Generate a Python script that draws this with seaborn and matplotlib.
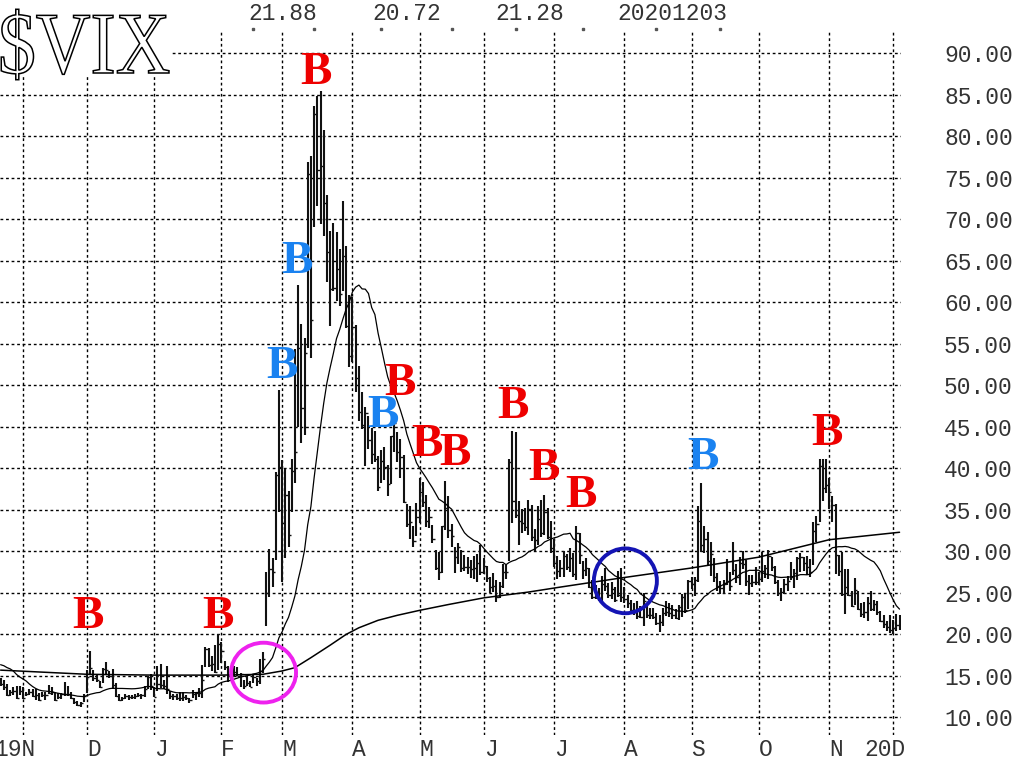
import numpy as np
import pandas as pd
import matplotlib
matplotlib.use("Agg")
import matplotlib.pyplot as plt
import seaborn as sns
from matplotlib.patches import Ellipse, Rectangle, PathPatch
from matplotlib.textpath import TextPath
from matplotlib.font_manager import FontProperties
from matplotlib.transforms import Affine2D, IdentityTransform, blended_transform_factory, offset_copy

# trading calendar shown on the chart
holidays = ["2019-11-28", "2019-12-25", "2020-01-01", "2020-01-20", "2020-02-17",
            "2020-04-10", "2020-05-25", "2020-07-03", "2020-09-07", "2020-11-26"]
dates = pd.bdate_range("2019-10-23", "2020-12-03")
dates = dates[~dates.isin(pd.to_datetime(holidays))]

# closes before the first bar, only used to start the 20-day average
warmup_close = [15.96, 16.07, 17.22, 16.24, 18.56, 20.56, 19.12, 17.04, 17.86, 20.28,
                18.64, 17.57, 15.58, 14.57, 13.54, 13.68, 13.79, 14.25, 14.00, 14.46]

# daily $VIX bars (Oct 23 2019 .. Dec 3 2020), one line per month
vix_high = [
    14.78, 14.52, 13.98, 13.28, 13.70, 13.76, 13.84,
    13.61, 13.04, 13.40, 13.43, 13.44, 12.95, 13.09, 13.02, 13.88, 13.70, 13.06, 12.90, 12.96, 14.22, 13.73, 13.06, 12.37, 11.93, 11.87, 12.84,
    15.71, 17.99, 15.66, 15.12, 14.43, 15.97, 16.71, 15.59, 15.80, 14.20, 12.86, 12.52, 12.80, 12.74, 12.75, 12.83, 12.96, 12.77, 13.75, 15.05, 15.19,
    13.72, 16.20, 16.39, 14.46, 16.19, 13.16, 12.82, 12.79, 13.03, 13.08, 12.74, 12.40, 13.35, 13.04, 13.60, 16.35, 18.54, 18.38, 17.42, 18.67, 19.99,
    19.04, 16.78, 16.19, 15.40, 16.23, 16.10, 15.30, 14.51, 14.99, 14.43, 15.16, 14.75, 17.09, 17.88, 27.56, 30.24, 29.25, 39.55, 49.48,
    41.05, 39.93, 37.27, 41.07, 54.39, 62.12, 57.35, 55.72, 76.83, 77.57, 83.56, 84.83, 85.47, 80.75, 72.90, 68.54, 69.51, 68.39, 66.41, 72.24, 66.80, 60.84,
    60.59, 57.24, 52.29, 49.13, 47.36, 46.31, 44.91, 44.52, 41.44, 42.19, 42.54, 40.40, 43.85, 45.80, 44.42, 43.49, 41.61, 35.72, 35.48, 33.04, 35.86,
    38.80, 38.35, 36.77, 35.39, 33.22, 30.11, 29.96, 33.10, 38.50, 36.63, 33.34, 30.47, 31.02, 30.18, 29.59, 29.30, 28.99, 29.41, 29.67, 30.76,
    29.24, 28.18, 26.87, 27.36, 26.59, 26.30, 28.46, 28.34, 41.14, 44.44, 44.41, 36.01, 35.15, 35.25, 36.14, 35.63, 32.69, 35.49, 36.15, 36.76, 35.27, 33.64,
    31.54, 29.40, 28.97, 30.06, 29.68, 30.36, 29.79, 33.01, 32.20, 28.86, 29.25, 28.00, 26.50, 25.98, 25.56, 27.05, 27.99, 26.24, 26.32, 25.67, 27.60, 28.00,
    25.75, 24.78, 24.14, 23.84, 24.04, 23.41, 24.99, 23.58, 23.24, 23.24, 22.63, 22.35, 23.19, 23.98, 23.79, 23.59, 23.05, 23.58, 24.91, 24.85, 26.60,
    26.95, 26.92, 35.51, 38.28, 33.06, 32.35, 31.17, 29.26, 27.42, 26.40, 26.55, 29.06, 27.49, 31.17, 28.52, 29.29, 30.10, 29.00, 27.14, 27.14, 28.15,
    27.48, 29.88, 28.33, 30.22, 29.37, 28.29, 26.57, 25.61, 26.69, 27.01, 28.76, 27.90, 29.27, 29.77, 29.33, 29.42, 29.05, 33.49, 34.23, 41.16, 41.09, 41.09,
    38.78, 36.63, 35.69, 29.61, 29.96, 27.92, 27.85, 25.20, 26.81, 25.28, 23.84, 23.89, 24.48, 25.19, 24.18, 24.08, 22.78, 22.33, 21.62, 22.35,
    21.77, 22.42, 22.35,
]
vix_low = [
    13.77, 13.35, 12.54, 12.63, 12.71, 12.17, 12.67,
    12.23, 12.53, 12.74, 12.47, 12.10, 11.93, 12.52, 12.07, 12.80, 12.74, 11.95, 12.23, 12.28, 12.55, 12.60, 12.26, 11.61, 11.41, 11.28, 11.88,
    12.90, 15.07, 14.45, 14.29, 13.50, 14.10, 15.24, 14.78, 13.48, 12.44, 12.00, 11.96, 12.24, 12.14, 12.19, 12.28, 12.52, 12.23, 12.47, 13.46, 13.30,
    12.42, 13.13, 13.54, 13.39, 12.83, 12.28, 12.06, 12.07, 11.93, 12.02, 12.15, 11.75, 12.33, 12.09, 12.42, 12.38, 16.12, 16.02, 15.61, 15.40, 15.77,
    16.59, 15.71, 14.26, 14.51, 14.86, 14.94, 13.62, 13.38, 13.78, 13.62, 14.13, 13.79, 14.06, 15.30, 21.06, 24.48, 25.69, 29.00, 34.71,
    26.35, 29.20, 30.54, 34.72, 38.26, 45.01, 43.01, 43.96, 54.52, 53.26, 69.00, 71.56, 69.37, 67.94, 62.39, 57.19, 61.39, 60.16, 59.55, 61.37, 56.95, 52.20,
    52.76, 49.21, 45.65, 44.72, 40.22, 42.35, 40.56, 40.80, 37.29, 38.27, 38.60, 36.63, 38.07, 42.01, 40.76, 38.78, 35.87, 32.98, 31.46, 30.47, 31.88,
    33.43, 35.36, 32.99, 32.79, 30.97, 27.72, 26.60, 27.42, 32.52, 31.56, 30.53, 27.34, 28.44, 27.53, 27.66, 27.28, 26.80, 26.67, 26.34, 27.18,
    27.32, 26.35, 24.94, 25.07, 23.90, 24.33, 25.58, 26.71, 28.85, 33.37, 34.01, 30.71, 32.16, 32.48, 31.91, 31.27, 30.05, 30.75, 31.71, 32.01, 31.49, 29.85,
    28.16, 26.65, 26.90, 26.90, 27.74, 27.51, 26.89, 26.50, 28.47, 26.72, 27.00, 25.56, 24.31, 24.30, 24.02, 23.91, 25.23, 24.41, 24.25, 23.95, 24.52, 23.85,
    23.83, 23.22, 22.41, 22.33, 21.91, 22.00, 21.00, 22.00, 21.84, 21.91, 21.18, 20.28, 21.01, 22.16, 22.09, 21.80, 21.88, 21.70, 22.05, 22.54, 23.09,
    25.42, 24.64, 26.36, 29.93, 29.76, 28.20, 26.99, 26.35, 25.20, 24.83, 24.89, 25.93, 25.17, 27.13, 26.16, 25.99, 27.88, 25.86, 24.75, 25.69, 25.96,
    25.98, 26.35, 26.82, 26.67, 27.68, 26.11, 24.68, 24.03, 24.82, 25.24, 26.51, 25.64, 26.56, 27.51, 27.60, 27.12, 26.95, 28.41, 31.09, 33.53, 36.10, 37.07,
    35.10, 33.51, 27.33, 27.01, 24.68, 22.41, 24.57, 23.36, 23.56, 22.92, 22.15, 22.00, 21.65, 22.81, 22.86, 22.30, 21.44, 20.80, 20.45, 20.19,
    20.06, 20.47, 20.56,
]
vix_close = [
    14.01, 13.71, 12.65, 13.11, 13.20, 12.33, 13.22,
    12.30, 12.83, 13.10, 12.62, 12.73, 12.07, 12.69, 12.68, 13.00, 13.05, 12.05, 12.46, 12.86, 12.78, 12.81, 12.34, 11.87, 11.54, 11.75, 12.62,
    14.91, 15.96, 14.80, 14.52, 13.62, 15.86, 15.68, 14.99, 13.94, 12.63, 12.14, 12.29, 12.58, 12.50, 12.51, 12.61, 12.67, 12.65, 13.43, 14.82, 13.78,
    12.47, 14.02, 13.85, 13.79, 13.45, 12.54, 12.56, 12.32, 12.39, 12.42, 12.32, 12.10, 12.85, 12.91, 12.98, 14.56, 18.23, 16.28, 16.39, 15.49, 18.84,
    17.97, 16.05, 15.15, 14.96, 15.47, 15.04, 15.18, 13.74, 14.15, 13.68, 14.83, 14.38, 15.56, 17.08, 25.03, 27.85, 27.56, 39.16, 40.11,
    33.42, 36.82, 31.99, 39.62, 41.94, 54.46, 47.30, 53.90, 75.47, 57.83, 82.69, 75.91, 76.45, 72.00, 66.04, 61.59, 61.67, 63.95, 61.00, 65.54, 57.08, 53.54,
    57.06, 50.91, 46.80, 45.24, 46.70, 43.35, 41.67, 41.17, 37.76, 40.84, 40.11, 38.15, 43.83, 45.41, 41.98, 41.38, 35.93, 33.29, 33.57, 31.23, 34.15,
    37.19, 35.97, 33.61, 34.12, 31.44, 27.98, 27.57, 33.04, 35.28, 32.61, 31.89, 29.30, 30.53, 27.99, 28.16, 28.16, 27.91, 28.01, 28.59, 27.51,
    28.23, 26.84, 25.66, 25.81, 24.52, 25.81, 27.57, 27.57, 40.79, 36.09, 34.40, 33.67, 33.47, 32.94, 35.12, 31.77, 31.37, 33.84, 32.22, 34.73, 31.78, 30.43,
    28.62, 27.68, 27.94, 29.43, 28.08, 29.26, 27.29, 32.19, 29.52, 27.76, 28.00, 25.68, 24.46, 24.84, 24.32, 26.08, 25.84, 24.74, 25.44, 24.10, 24.76, 24.46,
    24.28, 23.76, 22.99, 22.65, 22.21, 22.13, 24.03, 22.28, 22.28, 22.05, 21.35, 21.51, 22.54, 22.72, 22.54, 22.37, 22.03, 23.27, 24.47, 22.96, 26.41,
    26.12, 26.57, 33.60, 30.75, 31.46, 28.81, 29.71, 26.87, 25.85, 25.59, 26.04, 26.46, 25.83, 27.78, 26.86, 28.58, 28.51, 26.38, 26.19, 26.27, 26.37,
    26.70, 27.63, 27.96, 29.48, 28.06, 26.36, 25.00, 25.07, 26.07, 26.40, 26.97, 27.41, 29.18, 29.35, 28.65, 28.11, 27.55, 32.46, 33.35, 40.28, 37.59, 38.02,
    37.13, 35.55, 29.57, 27.58, 24.86, 25.75, 24.80, 23.45, 25.35, 23.10, 22.45, 22.71, 23.84, 23.11, 23.70, 22.66, 21.64, 21.25, 20.84, 20.57,
    20.77, 21.17, 21.28,
]

# 200-day average (bar index, value)
ma200_idx = [0, 27, 48, 69, 82, 88, 92, 97, 103, 108, 112, 118, 124, 131, 140, 151, 165, 175, 194, 216, 237, 259, 281]
ma200_val = [15.7, 15.2, 15.1, 15.1, 15.2, 15.6, 16.0, 17.2, 18.7, 20.0, 20.8, 21.7, 22.3, 22.9, 23.6, 24.4, 25.1, 25.7, 26.8, 28.0, 29.3, 31.4, 32.3]

header_values = ["21.88", "20.72", "21.28", "20201203"]

# buy signals: (bar index, price level, colour)
signals = [
    (98.6, 88.2, "red"), (27.3, 22.7, "red"), (68.0, 22.7, "red"), (124.9, 50.75, "red"),
    (133.3, 43.4, "red"), (142.0, 42.3, "red"), (160.3, 48.0, "red"), (169.9, 40.5, "red"),
    (181.4, 37.3, "red"), (258.3, 44.7, "red"),
    (92.65, 65.4, "blue"), (88.0, 52.8, "blue"), (119.5, 46.9, "blue"), (219.6, 41.8, "blue"),
]

sns.set_style("white")
plt.rcParams["font.family"] = ["Liberation Mono", "DejaVu Sans Mono"]

W, H = 1021, 767
fig = plt.figure(figsize=(W / 100, H / 100), dpi=100)
ax = fig.add_axes([0, (H - 735) / H, 901 / W, (735 - 30) / H])

idx = np.arange(len(dates))
ma20 = pd.Series(warmup_close + vix_close).rolling(20).mean().to_numpy()[len(warmup_close):]

grid_kw = dict(color="black", lw=1.0, ls=(0, (2, 2)), zorder=1)
for lvl in range(10, 95, 5):
    ax.axhline(lvl, **grid_kw)
month_start = [i for i in range(1, len(dates)) if dates[i].month != dates[i - 1].month]
for i in month_start:
    ax.axvline(i, **grid_kw)

ax.vlines(idx, vix_low, vix_high, color="#111111", lw=1.5, zorder=3)
ax.hlines(vix_close, idx, idx + 0.7, color="#111111", lw=1.0, zorder=3)
sns.lineplot(x=idx, y=ma20, color="black", lw=0.9, ax=ax, zorder=4)
sns.lineplot(x=ma200_idx, y=ma200_val, color="black", lw=1.1, ax=ax, zorder=4)

ax.add_patch(Ellipse((82.2, 15.4), 20.3, 7.2, fill=False, ec="#ee22ee", lw=2.8, zorder=5))
ax.add_patch(Ellipse((195.3, 26.45), 19.7, 7.8, fill=False, ec="#1414b4", lw=2.8, zorder=5))

b_colors = {"red": "#ee0000", "blue": "#1a82f0"}
b_trans = offset_copy(ax.transData, fig=fig, y=-16, units="dots")
for x, y, c in signals:
    ax.text(x, y, "B", transform=b_trans, ha="center", va="baseline", color=b_colors[c],
            fontsize=34, fontweight="bold", family="Liberation Serif", zorder=6)

ax.set_xlim(-0.19, 281.46)
ax.set_ylim(7.89, 92.77)
ax.set_yticks(range(10, 95, 5))
ax.set_yticklabels([f"{v:.2f}" for v in range(10, 95, 5)])
ax.yaxis.tick_right()
ax.tick_params(axis="y", length=0, pad=31, labelsize=16.5, labelcolor="#333333")
ax.set_xticks([])
ax.set_xlabel("")
ax.set_ylabel("")
for s in ax.spines.values():
    s.set_visible(False)

# month letters under the grid
lab_tr = blended_transform_factory(ax.transData, ax.transAxes)
for k, i in enumerate(month_start):
    letter = dates[i].strftime("%b")[0]
    if k == 0 or k == len(month_start) - 1:
        ax.text(i + 4, -0.021, dates[i].strftime("%y") + letter, transform=lab_tr,
                ha="right", va="center", fontsize=16.5, color="#333333")
    else:
        ax.text(i, -0.021, letter, transform=lab_tr, ha="left", va="center",
                fontsize=16.5, color="#333333")

# mid-month dots along the top
for m in range(2, 10):
    j = dates.searchsorted(pd.Timestamp(2020, m, 15))
    ax.plot(j, 92.9, marker="s", ms=1.6, color="#555555", clip_on=False)

for s, px in zip(header_values, [248, 372, 495, 617]):
    fig.text(px / W, 1 - 14 / H, s, ha="left", va="center", fontsize=16.5, color="#333333")

# symbol in outlined serif letters
fig.add_artist(Rectangle((0, H - 76), 171, 76, transform=IdentityTransform(),
                         facecolor="white", edgecolor="none", zorder=3))
tp = TextPath((0, 0), "$VIX", size=88, prop=FontProperties(family="Liberation Serif"))
tr = Affine2D().scale(0.86, 1.0).translate(-2, H - 73) + IdentityTransform()
fig.add_artist(PathPatch(tp, facecolor="white", edgecolor="black", lw=1.1, transform=tr, zorder=4))

fig.savefig("out.png", dpi=100)
